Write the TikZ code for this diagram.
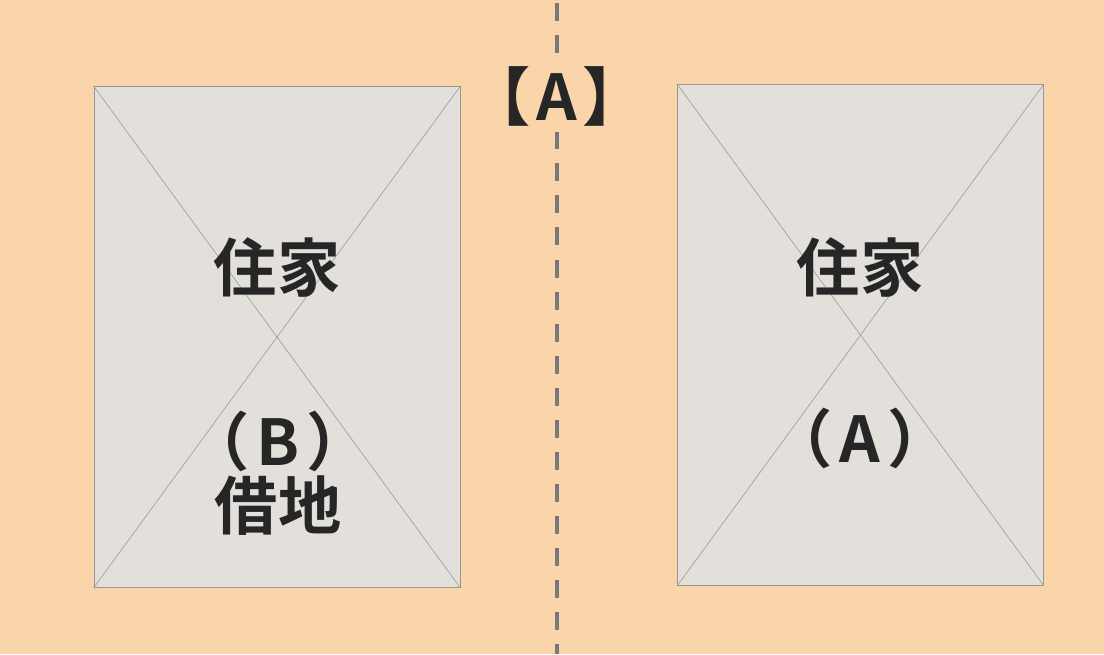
\documentclass[tikz,border=0pt]{standalone}
\usepackage{fontspec}
\newfontfamily\cjk{Noto Sans CJK JP}[BoldFont={Noto Sans CJK JP Bold}]
\usepackage{tikz}
\usetikzlibrary{positioning}
\usetikzlibrary{backgrounds}

\definecolor{peach}{RGB}{250,213,170}
\definecolor{lotgray}{RGB}{227,224,220}
\definecolor{edgegray}{RGB}{150,150,150}
\definecolor{inkdark}{RGB}{38,38,38}
\definecolor{dashgray}{RGB}{120,120,125}

\tikzset{
    lot/.style={draw=edgegray, line width=0.6pt, fill=lotgray, minimum width=9.15cm, minimum height=12.525cm, inner sep=0pt},
    cross/.style={draw=edgegray, line width=0.4pt},
    divider/.style={draw=dashgray, line width=2.8pt, dash pattern=on 12.8pt off 10pt},
    label/.style={font=\cjk\bfseries\fontsize{45pt}{50pt}\selectfont, text=inkdark, inner sep=0pt},
}

\begin{document}
\begin{tikzpicture}[x=0.025cm, y=-0.025cm]
            \fill[peach] (0,0) rectangle (1104,654);
            \useasboundingbox (0,0) rectangle (1104,654);
            \coordinate (div_top) at (557,3);
            \coordinate (div_bot) at (557,654);
            \draw[divider] (div_top) -- (div_bot);
            \node[label, fill=peach, inner ysep=4pt] (title) at (557,96) {【\hspace{4pt}A\hspace{4pt}】};
            % two lots, left and right
            \node[lot] (lot_l) at (277,337) {};
            \node[lot] (lot_r) at (860.5,335) {};
            \draw[cross] (lot_l.north west) -- (lot_l.south east);
            \draw[cross] (lot_l.north east) -- (lot_l.south west);
            \draw[cross] (lot_r.north west) -- (lot_r.south east);
            \draw[cross] (lot_r.north east) -- (lot_r.south west);
            \node[label] (house_l) at (277,267) {住家};
            \node[label] (tag_b)   at (278,441) {（\hspace{5pt}B\hspace{5pt}）};
            \node[label] (lease_b) at (278,506) {借地};
            \node[label] (house_r) at (860,267) {住家};
            \node[label] (tag_a)   at (860,438) {（\hspace{5pt}A\hspace{5pt}）};
        \end{tikzpicture}
\end{document}
